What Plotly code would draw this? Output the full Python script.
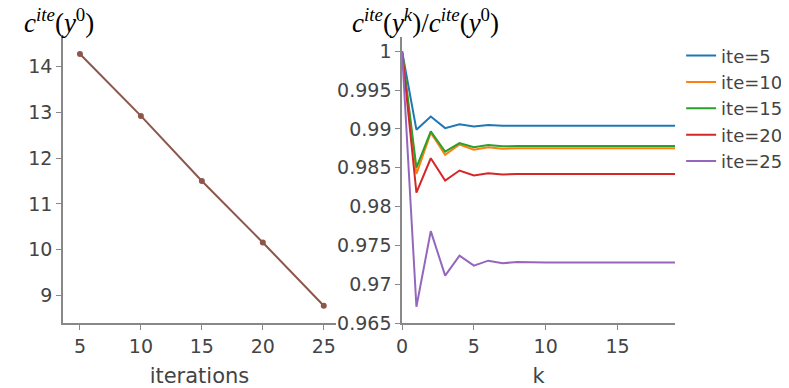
import plotly.graph_objects as go
from plotly.subplots import make_subplots

# left panel: c^ite(y^0) against number of iterations
iterations = [5, 10, 15, 20, 25]
c_y0 = [14.27, 12.92, 11.50, 10.16, 8.78]

# right panel: c^ite(y^k) / c^ite(y^0) against k
k = list(range(20))
ratio_ite5 = [1.0, 0.9899, 0.9916, 0.9901, 0.9906, 0.9903, 0.9905, 0.9904, 0.9904, 0.9904,
              0.9904, 0.9904, 0.9904, 0.9904, 0.9904, 0.9904, 0.9904, 0.9904, 0.9904, 0.9904]
ratio_ite10 = [1.0, 0.9842, 0.9895, 0.98665, 0.9880, 0.98733, 0.98763, 0.98745, 0.9875, 0.9875,
               0.9875, 0.9875, 0.9875, 0.9875, 0.9875, 0.9875, 0.9875, 0.9875, 0.9875, 0.9875]
ratio_ite15 = [1.0, 0.9850, 0.98968, 0.98707, 0.98818, 0.98763, 0.98793, 0.98776, 0.9878, 0.9878,
               0.9878, 0.9878, 0.9878, 0.9878, 0.9878, 0.9878, 0.9878, 0.9878, 0.9878, 0.9878]
ratio_ite20 = [1.0, 0.9818, 0.98622, 0.98336, 0.98464, 0.98400, 0.98430, 0.98412, 0.9842, 0.9842,
               0.9842, 0.9842, 0.9842, 0.9842, 0.9842, 0.9842, 0.9842, 0.9842, 0.9842, 0.9842]
ratio_ite25 = [1.0, 0.9671, 0.97683, 0.97111, 0.97367, 0.97239, 0.97303, 0.97269, 0.97286, 0.9728,
               0.9728, 0.9728, 0.9728, 0.9728, 0.9728, 0.9728, 0.9728, 0.9728, 0.9728, 0.9728]

series = [("ite=5", ratio_ite5, "#1f77b4"),
          ("ite=10", ratio_ite10, "#ff7f0e"),
          ("ite=15", ratio_ite15, "#2ca02c"),
          ("ite=20", ratio_ite20, "#d62728"),
          ("ite=25", ratio_ite25, "#9467bd")]

fig = make_subplots(rows=1, cols=2, horizontal_spacing=0.108)

fig.add_trace(go.Scatter(x=iterations, y=c_y0, mode="lines+markers",
                         line=dict(color="#8c564b", width=2),
                         marker=dict(size=6, color="#8c564b"),
                         showlegend=False), row=1, col=1)

for name, vals, col in series:
    fig.add_trace(go.Scatter(x=k, y=vals, mode="lines", name=name,
                             line=dict(color=col, width=2)), row=1, col=2)

axis_style = dict(showline=True, linecolor="#888", linewidth=1.5, ticks="outside",
                  ticklen=5, tickcolor="#888", showgrid=False, zeroline=False,
                  tickfont=dict(size=19, color="#444"))

fig.update_xaxes(**axis_style)
fig.update_yaxes(**axis_style)
fig.update_xaxes(title_text="iterations", range=[3.61, 26.0], tickvals=[5, 10, 15, 20, 25],
                 title_font=dict(size=21, color="#444"), row=1, col=1)
fig.update_yaxes(range=[8.405, 14.64], tickvals=[9, 10, 11, 12, 13, 14], row=1, col=1)
fig.update_xaxes(title_text="k", range=[0, 19], tickvals=[0, 5, 10, 15],
                 title_font=dict(size=21, color="#444"), row=1, col=2)
fig.update_yaxes(range=[0.965, 1.00184], dtick=0.005, row=1, col=2)

title_font = dict(family="Liberation Serif", size=27, color="black")
fig.add_annotation(text="<i>c<sup>ite</sup></i>(<i>y</i><sup>0</sup>)", xref="paper", yref="paper",
                   x=-0.067, y=1.055, xanchor="left", yanchor="middle",
                   showarrow=False, font=title_font)
fig.add_annotation(text="<i>c<sup>ite</sup></i>(<i>y<sup>k</sup></i>)/<i>c<sup>ite</sup></i>(<i>y</i><sup>0</sup>)",
                   xref="paper", yref="paper", x=0.469, y=1.055, xanchor="left", yanchor="middle",
                   showarrow=False, font=title_font)

# page body adds an 8px offset, so the figure is 8px smaller on each axis
fig.update_layout(
    width=781, height=380,
    template="simple_white",
    font=dict(family="DejaVu Sans", size=18, color="#444"),
    margin=dict(l=55, r=114, t=29, b=65, autoexpand=False),
    legend=dict(x=1.01, y=0.999, xanchor="left", yanchor="top", font=dict(size=18)),
    plot_bgcolor="white", paper_bgcolor="white",
)

fig.write_html("out.html")
